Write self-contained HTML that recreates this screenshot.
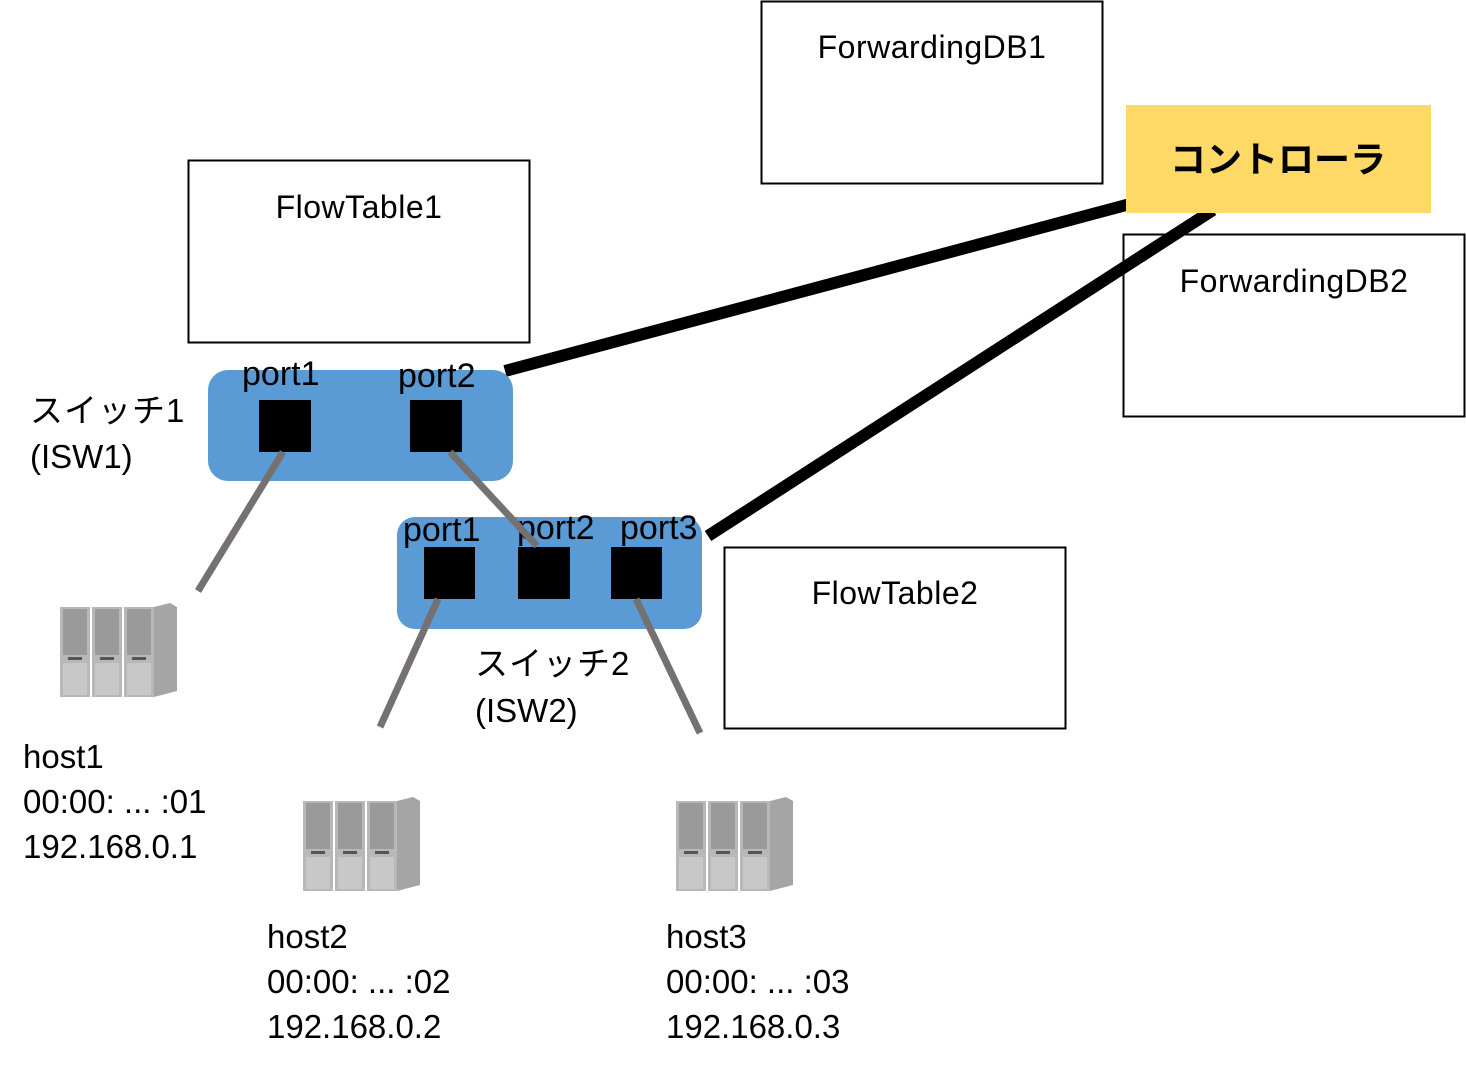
<!DOCTYPE html>
<html><head><meta charset="utf-8"><style>
body{margin:0;background:#fff;}
svg{display:block;font-family:"Liberation Sans","Noto Sans CJK JP",sans-serif;}
</style></head><body>
<svg width="1466" height="1072" viewBox="0 0 1466 1072">
<defs>
<g id="srv">
  <g>
    <rect x="0" y="4" width="30" height="90" fill="#b8b8b8"/>
    <rect x="3" y="6" width="24" height="46" fill="#9a9a9a"/>
    <rect x="3" y="60" width="24" height="32" fill="#c8c8c8"/>
    <rect x="8" y="54" width="14" height="3" fill="#555"/>
  </g>
  <g transform="translate(32,0)">
    <rect x="0" y="4" width="30" height="90" fill="#b8b8b8"/>
    <rect x="3" y="6" width="24" height="46" fill="#9a9a9a"/>
    <rect x="3" y="60" width="24" height="32" fill="#c8c8c8"/>
    <rect x="8" y="54" width="14" height="3" fill="#555"/>
  </g>
  <g transform="translate(64,0)">
    <rect x="0" y="4" width="30" height="90" fill="#b8b8b8"/>
    <rect x="3" y="6" width="24" height="46" fill="#9a9a9a"/>
    <rect x="3" y="60" width="24" height="32" fill="#c8c8c8"/>
    <rect x="8" y="54" width="14" height="3" fill="#555"/>
  </g>
  <polygon points="94,4 110,0 117,4 117,88 94,94" fill="#a5a5a5"/>
</g>
</defs>

<g>
<rect x="761.5" y="1.5" width="341" height="182" fill="#fff" stroke="#000" stroke-width="2"/>
<text x="932" y="58" font-size="32" letter-spacing="0.5" text-anchor="middle">ForwardingDB1</text></g>

<g>
<rect x="188.5" y="160.5" width="341" height="182" fill="#fff" stroke="#000" stroke-width="2"/>
<text x="359" y="218" font-size="32" letter-spacing="0.5" text-anchor="middle">FlowTable1</text></g>

<g>
<rect x="1123.5" y="234.5" width="341" height="182" fill="#fff" stroke="#000" stroke-width="2"/>
<text x="1294" y="292" font-size="32" letter-spacing="0.5" text-anchor="middle">ForwardingDB2</text></g>

<g>
<rect x="724.5" y="547.5" width="341" height="181" fill="#fff" stroke="#000" stroke-width="2"/>
<text x="895" y="604" font-size="32" letter-spacing="0.5" text-anchor="middle">FlowTable2</text></g>

<line x1="505" y1="371" x2="1130" y2="204" stroke="#000" stroke-width="12"/>
<line x1="708" y1="536" x2="1213" y2="210" stroke="#000" stroke-width="12"/>

<g>
<rect x="1126" y="105" width="305" height="108" fill="#FFD966"/>
<text x="1278" y="172" font-size="36" font-weight="bold" text-anchor="middle">コントローラ</text></g>

<g>
<rect x="208" y="370" width="305" height="111" rx="20" fill="#5B9BD5"/>
<rect x="259" y="400" width="52" height="52" fill="#000"/>
<rect x="410" y="400" width="52" height="52" fill="#000"/>
</g>
<text x="242" y="385" font-size="34">port1</text>
<text x="398" y="387" font-size="34">port2</text>
<text x="30" y="422" font-size="33" letter-spacing="1">スイッチ1</text>
<text x="30" y="468" font-size="33">(ISW1)</text>

<g>
<rect x="397" y="517" width="305" height="112" rx="18" fill="#5B9BD5"/>
<rect x="424" y="547" width="51" height="52" fill="#000"/>
<rect x="518" y="547" width="52" height="52" fill="#000"/>
<rect x="611" y="547" width="51" height="52" fill="#000"/>
</g>
<text x="403" y="541" font-size="34">port1</text>
<text x="517" y="539" font-size="34">port2</text>
<text x="620" y="539" font-size="34">port3</text>
<text x="475" y="675" font-size="33" letter-spacing="1">スイッチ2</text>
<text x="475" y="722" font-size="33">(ISW2)</text>

<g stroke="#767171" stroke-width="7">
<line x1="283" y1="452" x2="198" y2="591"/>
<line x1="450" y1="452" x2="537" y2="546"/>
<line x1="438" y1="599" x2="380" y2="727"/>
<line x1="636" y1="599" x2="700" y2="733"/>
</g>

<use href="#srv" x="60" y="603"/>
<use href="#srv" x="303" y="797"/>
<use href="#srv" x="676" y="797"/>

<g font-size="33">
<text x="23" y="768">host1</text><text x="23" y="813">00:00: ... :01</text><text x="23" y="858">192.168.0.1</text></g>
<g font-size="33">
<text x="267" y="948">host2</text><text x="267" y="993">00:00: ... :02</text><text x="267" y="1038">192.168.0.2</text></g>
<g font-size="33">
<text x="666" y="948">host3</text><text x="666" y="993">00:00: ... :03</text><text x="666" y="1038">192.168.0.3</text></g>
</svg>
</body></html>
